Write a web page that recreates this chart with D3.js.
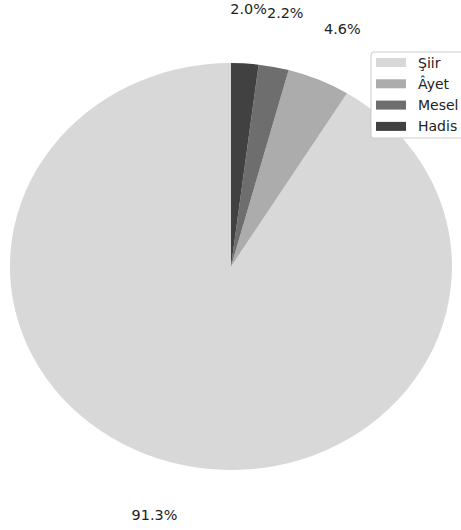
<!DOCTYPE html>
<html>
<head>
<meta charset="utf-8">
<script src="https://cdn.jsdelivr.net/npm/d3@7"></script>
<style>
  body { margin: 0; background: #fff; }
  text { font-family: "DejaVu Sans", sans-serif; fill: #222; }
</style>
</head>
<body>
<script>
// data (legend order)
const categories = ["Şiir", "Âyet", "Mesel", "Hadis"];
const shares = [91.3, 4.6, 2.2, 2.0];
const colors = ["#d8d8d8", "#acacac", "#6e6e6e", "#414141"];

// constants
const width = 461;
const height = 530;
const cx = 231, cy = 266.5;
const rx = 221, ry = 203.5;
const pctDistance = 1.27;

const svg = d3.select("body").append("svg")
    .attr("width", width)
    .attr("height", height);

const data = categories.map((c, i) => ({ name: c, value: shares[i], color: colors[i] }));

// counterclockwise from 12 o'clock, first slice first
const pie = d3.pie()
    .sort(null)
    .value(d => d.value)
    .startAngle(0)
    .endAngle(-2 * Math.PI);

const arcs = pie(data);

const arc = d3.arc().innerRadius(0).outerRadius(1);
const labelArc = d3.arc().innerRadius(pctDistance).outerRadius(pctDistance);

const g = svg.append("g").attr("transform", `translate(${cx},${cy})`);

g.append("g")
    .attr("transform", `scale(${rx},${ry})`)
    .selectAll("path")
    .data(arcs)
    .join("path")
    .attr("d", arc)
    .attr("fill", d => d.data.color);

g.selectAll(".pct")
    .data(arcs)
    .join("text")
    .attr("class", "pct")
    .attr("x", d => labelArc.centroid(d)[0] * rx)
    .attr("y", d => labelArc.centroid(d)[1] * ry)
    .attr("text-anchor", "middle")
    .attr("dominant-baseline", "central")
    .style("font-size", "14.4px")
    .text(d => d.data.value.toFixed(1) + "%");

// legend
const legend = svg.append("g").attr("transform", "translate(371,52)");
legend.append("rect")
    .attr("width", 110)
    .attr("height", 86)
    .attr("rx", 3)
    .attr("fill", "#fff")
    .attr("stroke", "#cccccc");

const item = legend.selectAll(".item")
    .data(data)
    .join("g")
    .attr("class", "item")
    .attr("transform", (d, i) => `translate(0,${10.5 + i * 21.3})`);

item.append("rect")
    .attr("x", 5)
    .attr("y", -4.5)
    .attr("width", 30)
    .attr("height", 9)
    .attr("fill", d => d.color);

item.append("text")
    .attr("x", 47)
    .attr("dominant-baseline", "central")
    .style("font-size", "14px")
    .text(d => d.name);
</script>
</body>
</html>
